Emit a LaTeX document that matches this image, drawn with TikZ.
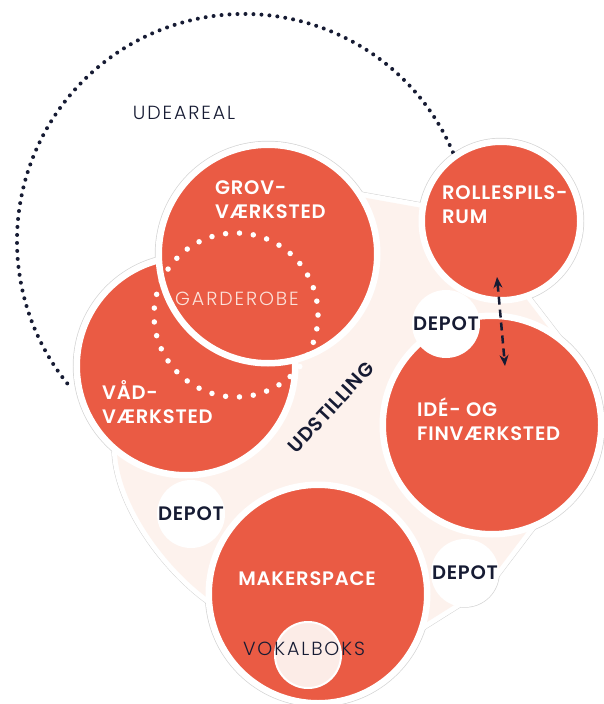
\documentclass[tikz,border=0pt]{standalone}
\usepackage{fontspec}
\setmainfont{Poppins}[BoldFont={* SemiBold}]
\newfontfamily\thinfont{Poppins}[UprightFont={* Light}, LetterSpace=10]
\newfontfamily\boldfont{Poppins SemiBold}[LetterSpace=4]
\usetikzlibrary{arrows.meta,backgrounds}
\definecolor{roomred}{RGB}{234,91,68}
\definecolor{navy}{RGB}{22,27,51}
\definecolor{blush}{RGB}{253,242,237}
\definecolor{vokalpink}{RGB}{252,236,231}
\definecolor{rim}{RGB}{212,212,212}
\definecolor{garderobetext}{RGB}{252,226,218}

\begin{document}
\begin{tikzpicture}[x=1pt, y=-1pt,
  room/.style = {shape=circle, fill=roomred, draw=white, line width=6.5pt,
    minimum size=218.5pt, inner sep=0pt},
  smallroom/.style = {room, minimum size=158.5pt},
  depot/.style = {shape=circle, fill=white, minimum size=68pt, inner sep=0pt,
    text=navy, font=\boldfont\fontsize{19.5}{24}\selectfont},
  roomtext/.style = {text=white, font=\boldfont\fontsize{19.5}{24}\selectfont,
    align=left, anchor=north west, inner sep=0pt},
  darktext/.style = {text=navy, font=\boldfont\fontsize{19.5}{24}\selectfont, inner sep=0pt},
  thintext/.style = {text=navy, font=\thinfont\fontsize{19}{24}\selectfont, inner sep=0pt},
  navydots/.style = {navy, line width=4pt, line cap=round, dash pattern=on 0pt off 8pt},
  whitedots/.style = {white, line width=5.5pt, line cap=round, dash pattern=on 0pt off 13.925pt},
  link/.style = {navy, line width=2.5pt, dash pattern=on 8pt off 5pt,
    {Stealth[length=11pt,width=9pt]}-{Stealth[length=11pt,width=9pt]}}]
  \useasboundingbox (0,0) rectangle (604,704);

  \draw[navydots] (244,241) ++(23:227pt) arc[start angle=23, end angle=220, radius=227pt];

  \node[room] (vaad) at (186,366) {};
  \node[room] (grov) at (268,254) {};
  \node[smallroom] (rollespil) at (501,221) {};
  \node[room] (ide) at (492,425) {};
  \node[room] (makerspace) at (318,594) {};
  \node[depot] (depot-top) at (446,324) {DEPOT};
  \node[depot] (depot-left) at (191,514) {DEPOT};
  \node[depot] (depot-right) at (465,573) {DEPOT};
  \node[shape=circle, fill=vokalpink, draw=white, line width=2pt, minimum size=66pt] (vokalboks) at (308,655) {};

  \begin{pgfonlayer}{background}
    \foreach \c/\r in {vaad/113.2, grov/113.2, rollespil/83.2, ide/113.2, makerspace/113.2,
        depot-top/34.7, depot-left/34.7, depot-right/34.7}
      \fill[rim] (\c.center) circle[radius=\r pt];
    \path[draw=rim, line width=11pt, postaction={draw=white, line width=10pt},
        postaction={fill=blush}]
      (330,191.5) -- (450,213) -- (503.6,269.4) -- (578,366) -- (544,509) -- (484,588)
      -- (470,595) -- (408,634) -- (230,610) -- (209,599)
      .. controls (165,567) and (120,505) .. (117,453) -- (130,420) -- (200,330) -- cycle;
  \end{pgfonlayer}

  \draw[whitedots] (236,315) circle[radius=82pt];

  \coordinate (rollespil-end) at (497,277);
  \coordinate (ide-end) at (505,366);
  \draw[link] (rollespil-end) -- (ide-end);

  \node[thintext] (udeareal) at (184,112.5) {UDEAREAL};
  \node[roomtext] at (215,180) {GROV-\\VÆRKSTED};
  \node[roomtext] at (442,185) {ROLLESPILS-\\RUM};
  \node[roomtext] at (102,380) {VÅD-\\VÆRKSTED};
  \node[roomtext] at (417,398) {IDÉ- OG\\FINVÆRKSTED};
  \node[thintext, text=garderobetext] (garderobe) at (237,299) {GARDEROBE};
  \node[darktext, rotate=47] (udstilling) at (331,407.5) {UDSTILLING};
  \node[roomtext, anchor=center] at (307,578.5) {MAKERSPACE};
  \node[thintext] at (304,648.5) {VOKALBOKS};
\end{tikzpicture}
\end{document}
